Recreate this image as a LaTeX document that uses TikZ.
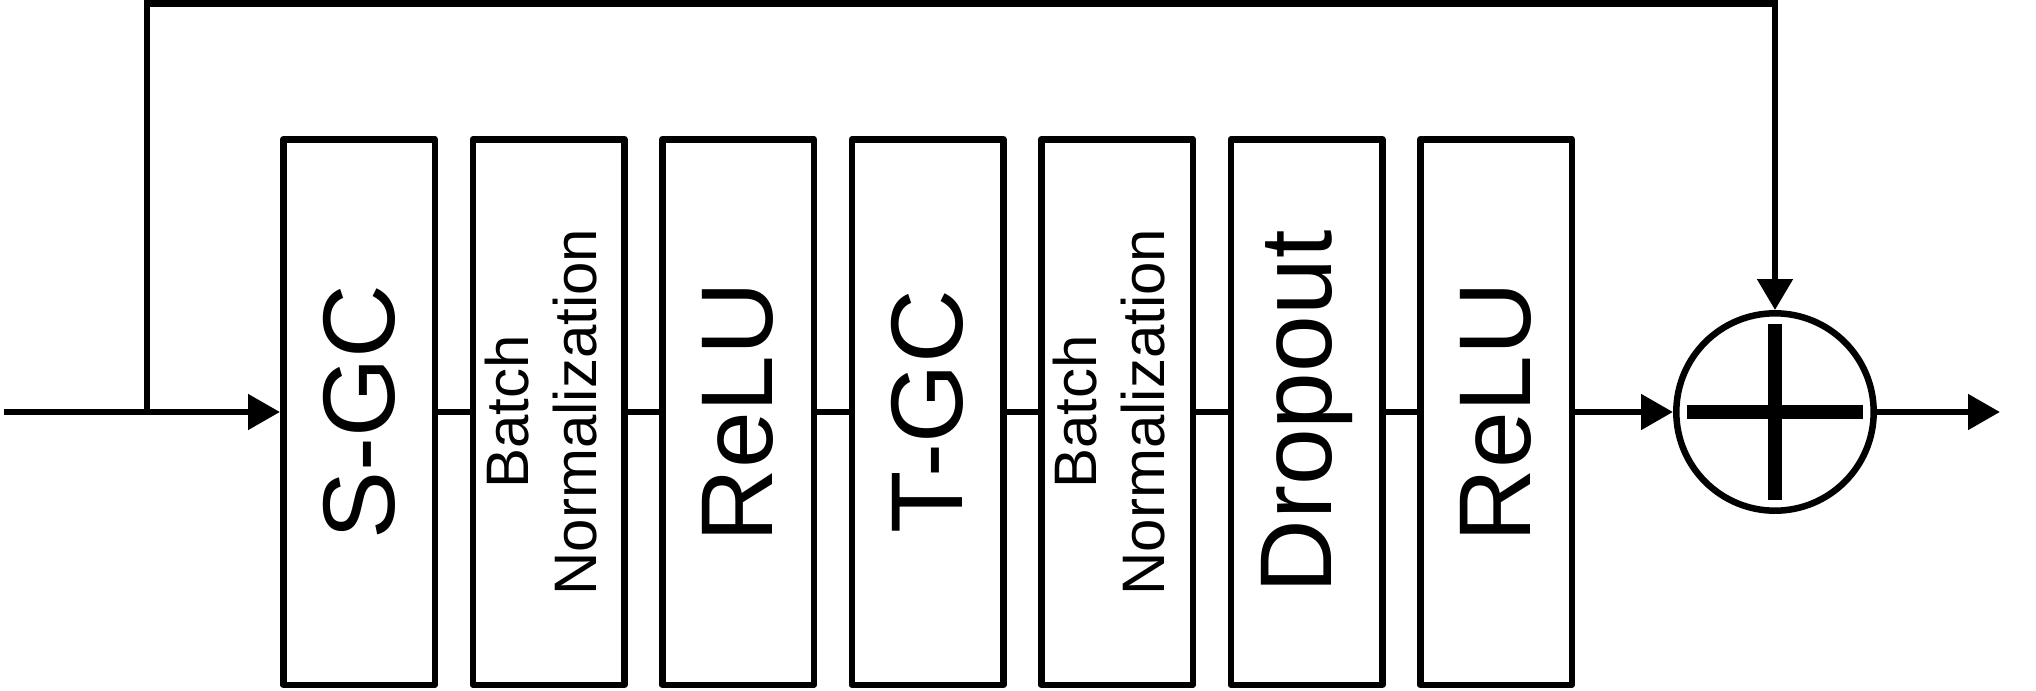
\documentclass[tikz,border=0pt]{standalone}
\usepackage{fontspec}
\setmainfont{Liberation Sans}
\usetikzlibrary{arrows.meta}
\begin{document}
\begin{tikzpicture}[x=0.5pt,y=-0.5pt,
  blk/.style={draw, line width=3.25pt, line join=round, minimum width=75.75pt, minimum height=272.75pt, inner sep=0pt},
  big/.style={font=\fontsize{51}{58}\selectfont},
  small/.style={font=\fontsize{30}{34}\selectfont},
  conn/.style={line width=3.25pt},
  arr/.style={conn, -{Triangle[length=16pt,width=17.25pt]}},
  arrdown/.style={line width=3.25pt, line join=miter, -{Triangle[length=15.5pt,width=17.25pt]}},
  bar/.style={line width=7pt},
]
\useasboundingbox (0,0) rectangle (2036,691);

\node[blk, big]   (b1) at (359,412) {\rotatebox{90}{S-GC}};
\node[blk, small] (b2) at (548.5,412) {\rotatebox{90}{\begin{tabular}{@{}c@{}}Batch\\Normalization\end{tabular}}};
\node[blk, big]   (b3) at (738,412) {\rotatebox{90}{ReLU}};
\node[blk, big]   (b4) at (927.5,412) {\rotatebox{90}{T-GC}};
\node[blk, small] (b5) at (1117,412) {\rotatebox{90}{\begin{tabular}{@{}c@{}}Batch\\Normalization\end{tabular}}};
\node[blk, big]   (b6) at (1306.5,412) {\rotatebox{90}{Dropout}};
\node[blk, big]   (b7) at (1496,412) {\rotatebox{90}{ReLU}};

\node[circle, draw, line width=3.25pt, minimum size=98.7pt, inner sep=0pt] (circ) at (1775,412) {};
\draw[bar] ([xshift=-44pt]circ.center) -- ([xshift=44pt]circ.center);
\draw[bar] ([yshift=-44pt]circ.center) -- ([yshift=44pt]circ.center);

\coordinate (in) at (4,412);
\coordinate (split) at (147,412);
\coordinate (topL) at (147,3.5);
\coordinate (out) at (2000,412);

\draw[arr] (in) -- (b1);
\draw[conn] (b1) -- (b2);
\draw[conn] (b2) -- (b3);
\draw[conn] (b3) -- (b4);
\draw[conn] (b4) -- (b5);
\draw[conn] (b5) -- (b6);
\draw[conn] (b6) -- (b7);
\draw[arr] (b7) -- (circ);
\draw[arr] (circ) -- (out);
\draw[arrdown] (split) -- (topL) -| (circ.north);
\end{tikzpicture}
\end{document}
